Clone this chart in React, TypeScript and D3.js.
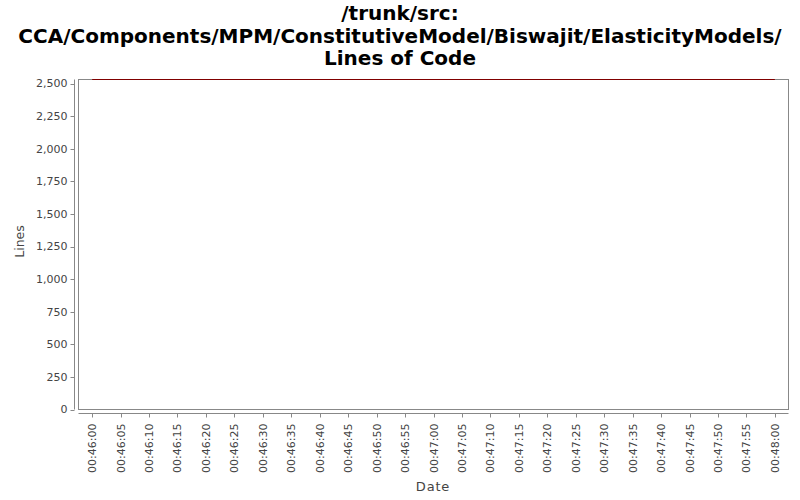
import React from "react";
import * as d3 from "d3";

const titleLines = [
  "/trunk/src:",
  "CCA/Components/MPM/ConstitutiveModel/Biswajit/ElasticityModels/",
  "Lines of Code",
];
const dates = ["00:46:00", "00:48:00"];
const lineValues = [2531, 2531];
const yTicks = [0, 250, 500, 750, 1000, 1250, 1500, 1750, 2000, 2250, 2500];
const xTickSeconds = d3.range(0, 121, 5);

const W = 800;
const H = 500;
const plot = { left: 78.5, right: 788.5, top: 79.5, bottom: 409.5 };

function parseT(s: string) {
  const [h, m, sec] = s.split(":").map(Number);
  return new Date(2000, 0, 1, h, m, sec);
}

export default function App() {
  const t0 = parseT(dates[0]);
  const t1 = parseT(dates[dates.length - 1]);
  const span = t1.getTime() - t0.getTime();
  const margin = span * 0.02;
  const x = d3
    .scaleTime()
    .domain([new Date(t0.getTime() - margin), new Date(t1.getTime() + margin)])
    .range([plot.left, plot.right]);
  const y = d3.scaleLinear().domain([0, 2531]).range([plot.bottom, plot.top]);
  const fmt = d3.timeFormat("%H:%M:%S");
  const line = d3
    .line<number>()
    .x((_, i) => x(parseT(dates[i])))
    .y((v) => y(v));
  const font = "'DejaVu Sans', sans-serif";
  const axisColor = "#888";
  const xAxisY = plot.bottom + 4;
  const yAxisX = plot.left - 4;
  return (
    <svg width={W} height={H} style={{ position: "absolute", left: 0, top: 0 }}>
      <rect x={0} y={0} width={W} height={H} fill="white" />
      {titleLines.map((t, i) => (
        <text
          key={i}
          x={W / 2}
          y={20 + i * 22.5}
          textAnchor="middle"
          fontFamily={font}
          fontWeight="bold"
          fontSize={20}
          fill="#000"
        >
          {t}
        </text>
      ))}
      <rect
        x={plot.left}
        y={plot.top}
        width={plot.right - plot.left}
        height={plot.bottom - plot.top}
        fill="white"
        stroke={axisColor}
        strokeWidth={1}
      />
      <path d={line(lineValues) || ""} fill="none" stroke="#800000" strokeWidth={1.2} />
      {/* Y axis */}
      <line x1={yAxisX} x2={yAxisX} y1={plot.top} y2={plot.bottom} stroke={axisColor} />
      {yTicks.map((v) => (
        <g key={v}>
          <line x1={yAxisX - 4} x2={yAxisX} y1={Math.round(y(v)) + 0.5} y2={Math.round(y(v)) + 0.5} stroke={axisColor} />
          <text
            x={yAxisX - 7}
            y={y(v)}
            dy="0.35em"
            textAnchor="end"
            fontFamily={font}
            fontSize={11}
            fill="#444"
          >
            {d3.format(",")(v)}
          </text>
        </g>
      ))}
      <text
        transform={`translate(24,241.5) rotate(-90)`}
        textAnchor="middle"
        fontFamily={font}
        fontSize={12.5}
        fill="#444"
      >
        Lines
      </text>
      {/* X axis */}
      <line x1={plot.left} x2={plot.right} y1={xAxisY} y2={xAxisY} stroke={axisColor} />
      {xTickSeconds.map((s) => {
        const d = new Date(t0.getTime() + s * 1000);
        const px = Math.round(x(d)) + 0.5;
        return (
          <g key={s}>
            <line x1={px} x2={px} y1={xAxisY} y2={xAxisY + 4} stroke={axisColor} />
            <text
              transform={`translate(${px},${xAxisY + 10}) rotate(-90)`}
              dy="0.35em"
              textAnchor="end"
              fontFamily={font}
              fontSize={11}
              fill="#444"
            >
              {fmt(d)}
            </text>
          </g>
        );
      })}
      <text
        x={433}
        y={491}
        textAnchor="middle"
        fontFamily={font}
        fontSize={13}
        letterSpacing={0.8}
        fill="#444"
      >
        Date
      </text>
    </svg>
  );
}
